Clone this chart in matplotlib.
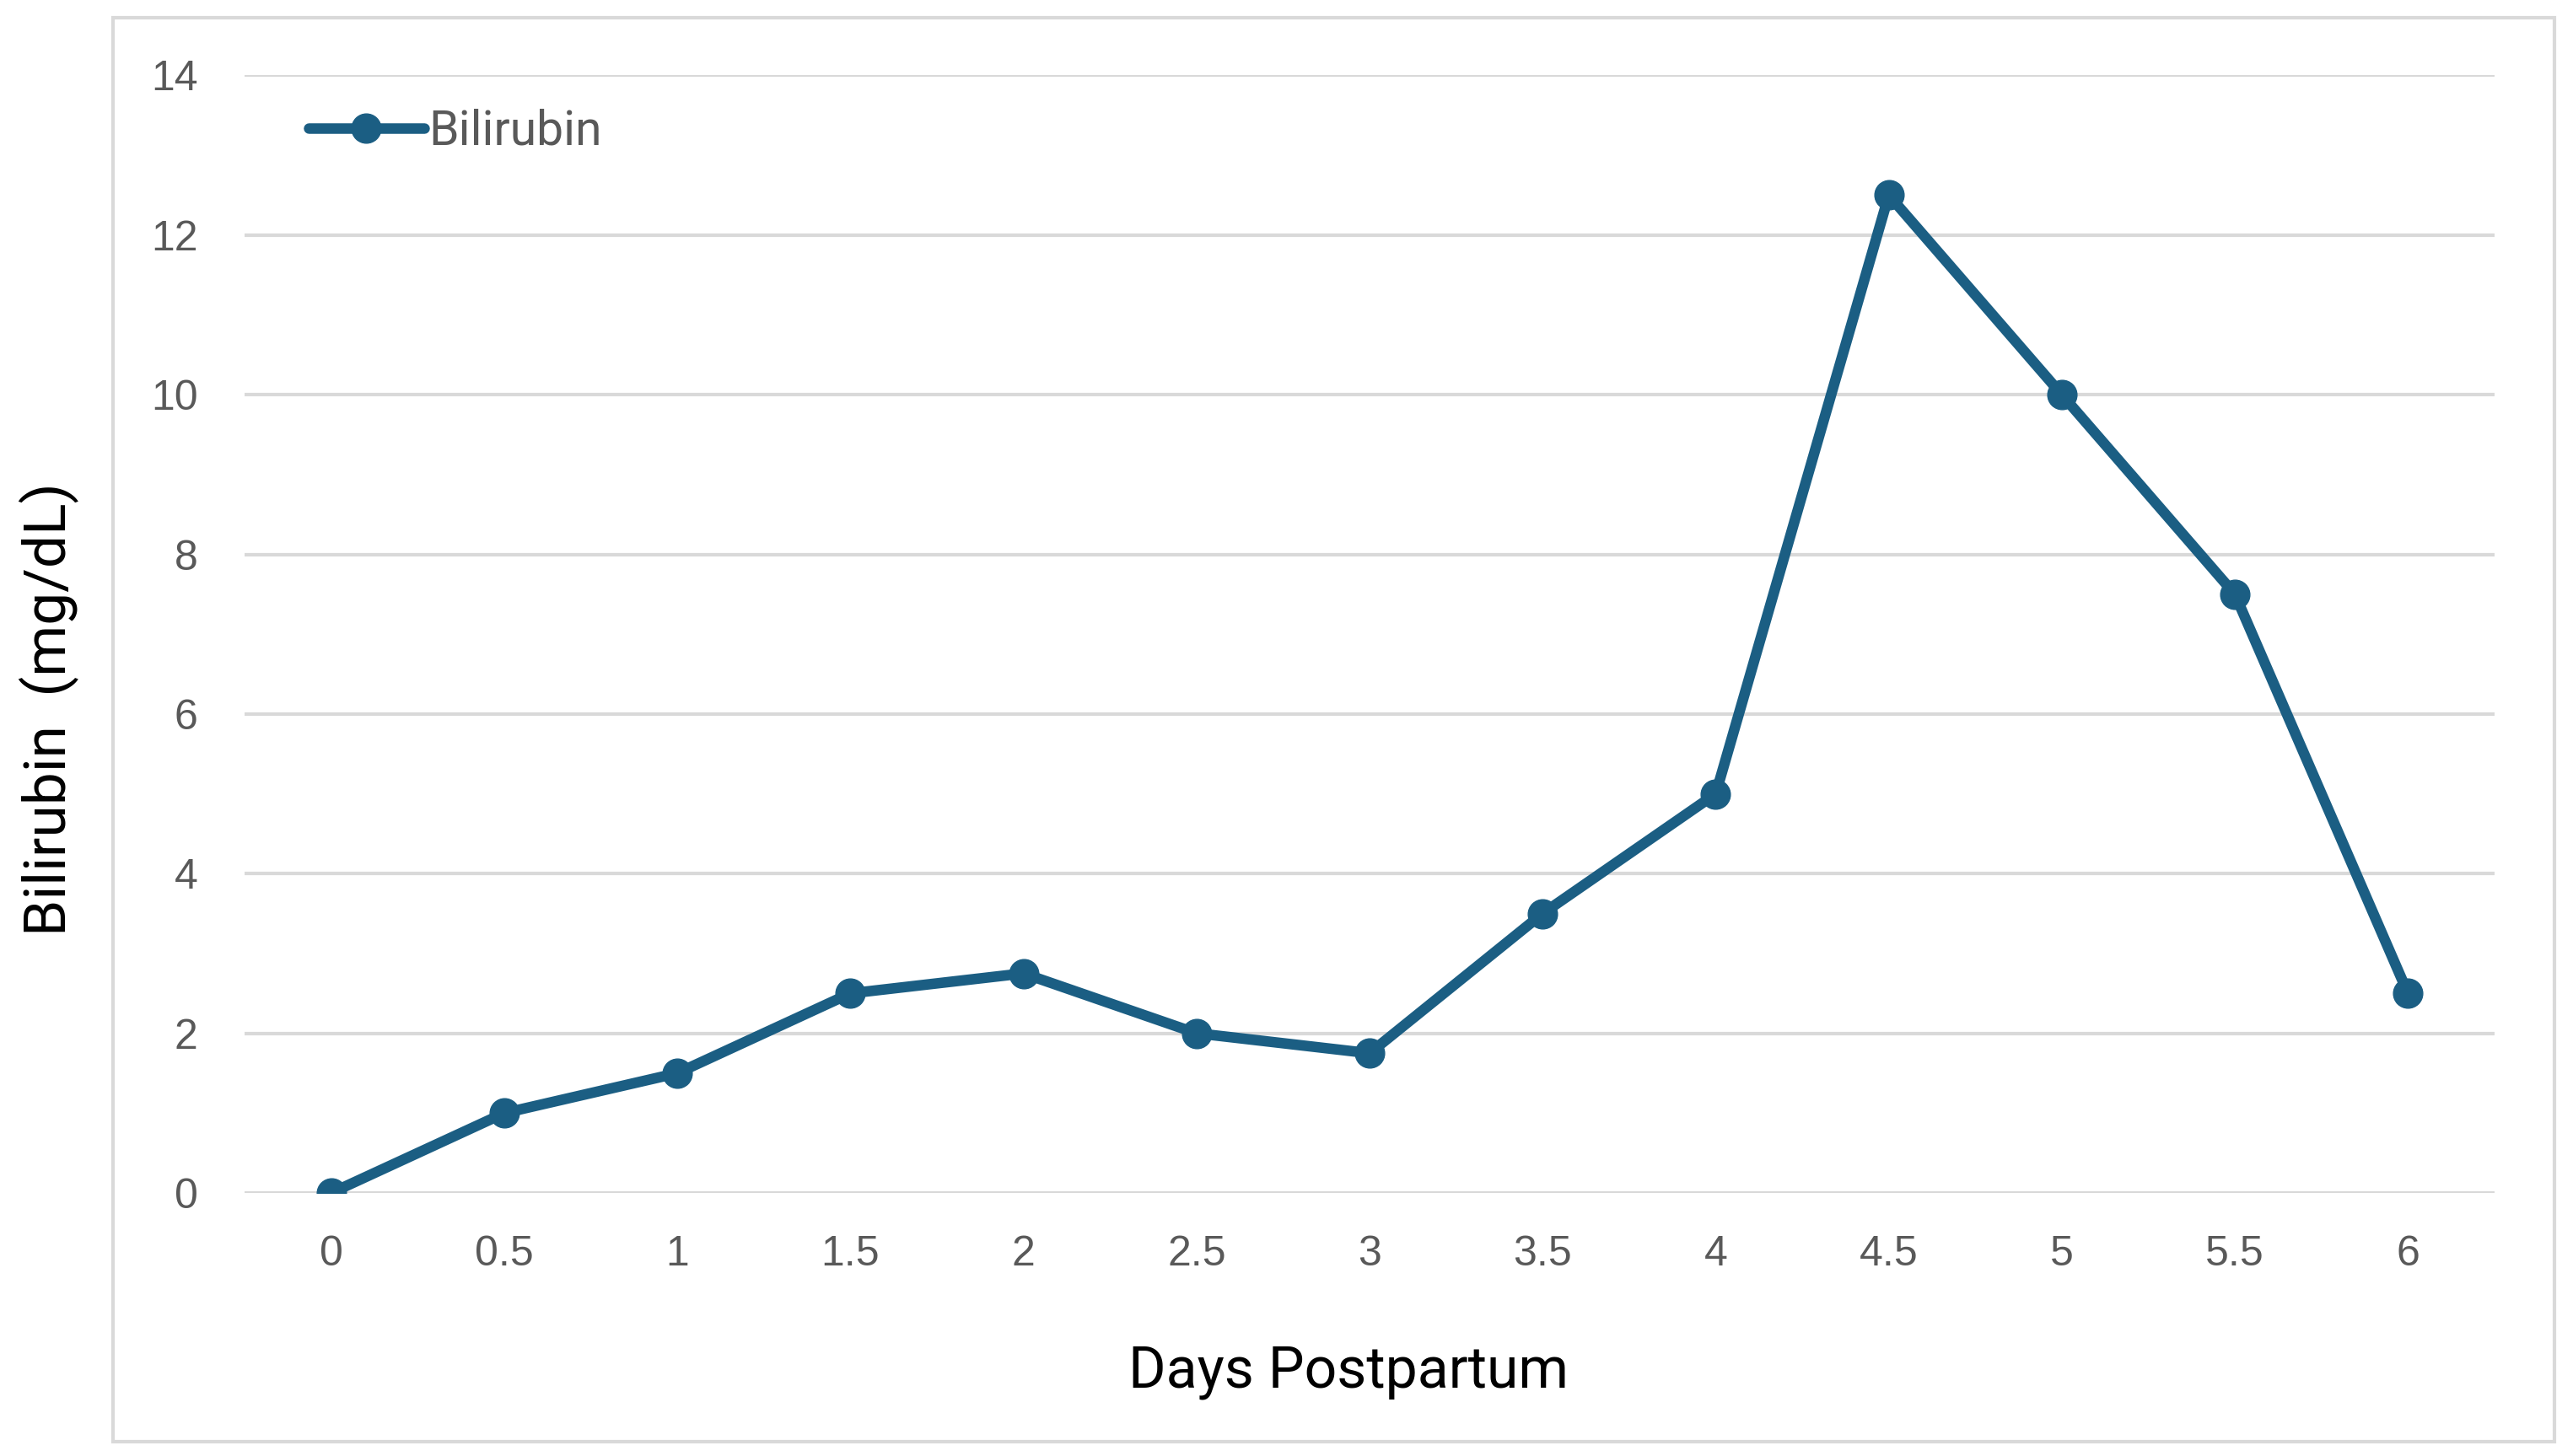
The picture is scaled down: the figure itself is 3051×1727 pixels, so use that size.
import matplotlib
matplotlib.use("Agg")
import matplotlib.pyplot as plt
from matplotlib.patches import Rectangle

# data
days = ["0", "0.5", "1", "1.5", "2", "2.5", "3", "3.5", "4", "4.5", "5", "5.5", "6"]
bilirubin = [0, 1, 1.5, 2.5, 2.75, 2, 1.75, 3.5, 5, 12.5, 10, 7.5, 2.5]
y_ticks = [0, 2, 4, 6, 8, 10, 12, 14]

line_color = "#1b5e83"
grid_color = "#d9d9d9"
tick_color = "#595959"

fig = plt.figure(figsize=(30.51, 17.27), dpi=100)
fig.patch.set_facecolor("white")

# chart area border (Excel style)
border = Rectangle((0.0439, 0.0098), 0.9928 - 0.0439, 0.9878 - 0.0098,
                   transform=fig.transFigure, fill=False,
                   edgecolor=grid_color, linewidth=3, zorder=0)
fig.patches.append(border)

ax = fig.add_axes([0.0951, 0.1807, 0.9695 - 0.0951, 0.9482 - 0.1807])

x = list(range(len(days)))
ax.plot(x, bilirubin, color=line_color, linewidth=9, marker="o",
        markersize=25, solid_capstyle="round", solid_joinstyle="round",
        label="Bilirubin", zorder=3)

ax.set_xlim(-0.5, len(days) - 0.5)
ax.set_ylim(0, 14)
ax.set_xticks(x)
ax.set_xticklabels(days)
ax.set_yticks(y_ticks)

ax.grid(axis="y", color=grid_color, linewidth=3)
ax.set_axisbelow(True)
for s in ax.spines.values():
    s.set_visible(False)

ax.tick_params(axis="both", length=0, labelsize=36, labelcolor=tick_color)
ax.tick_params(axis="x", pad=36)
ax.tick_params(axis="y", pad=40)
for lab in ax.get_xticklabels() + ax.get_yticklabels():
    lab.set_family("Liberation Sans")

fig.text(0.524, 0.058, "Days Postpartum", ha="center", va="center",
         fontsize=49, family="Roboto", color="black")
fig.text(0.019, 0.513, "Bilirubin  (mg/dL)", ha="center", va="center",
         rotation=90, fontsize=50, family="Roboto", color="black")

leg = ax.legend(loc="center left", bbox_to_anchor=(0.12, 0.9097),
                bbox_transform=fig.transFigure, frameon=False,
                borderpad=0, borderaxespad=0, handlelength=2.4,
                handletextpad=0.1, prop={"family": "Roboto", "size": 41})
for t in leg.get_texts():
    t.set_color(tick_color)

fig.savefig("out.png", dpi=100, facecolor="white")
